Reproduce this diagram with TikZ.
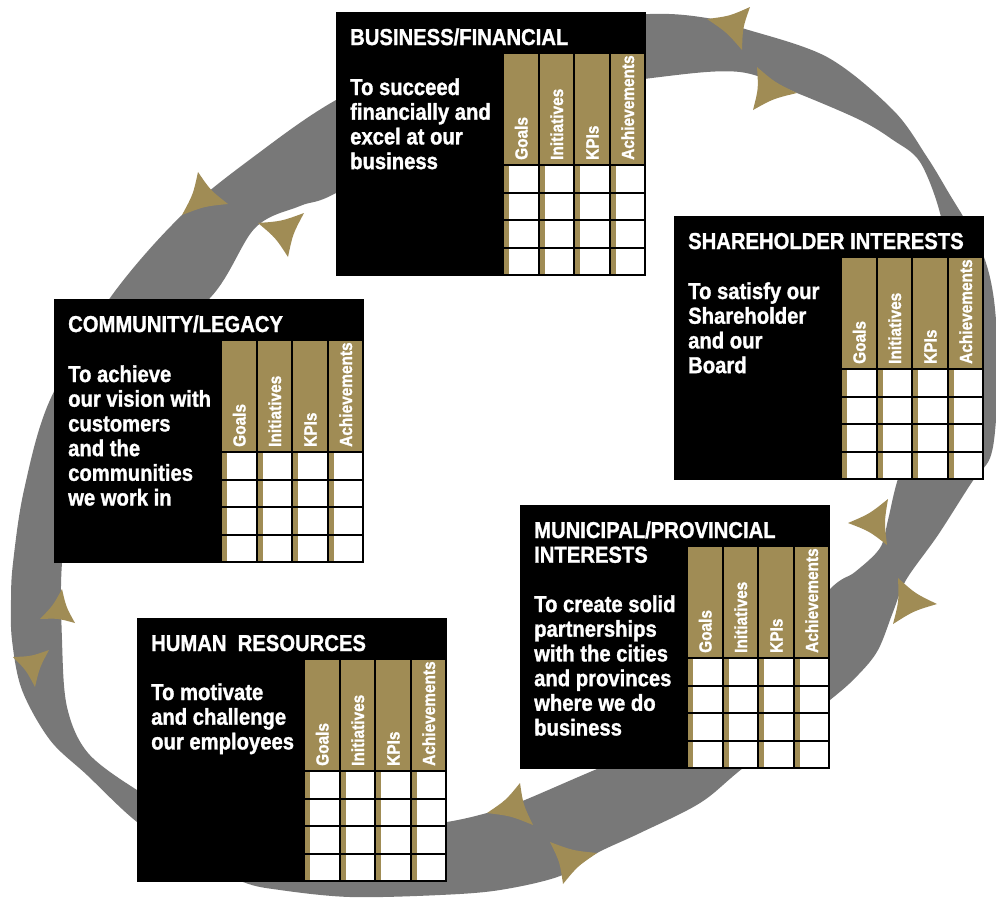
\documentclass[tikz,border=0pt]{standalone}
\usepackage{fontspec}
\newfontfamily\condf{Liberation Sans}[FakeStretch=0.88, BoldFeatures={FakeBold=1.3}]
\usetikzlibrary{calc}
\definecolor{ringgray}{RGB}{120,120,120}
\definecolor{gold}{RGB}{160,140,85}
\newcommand\stacklines[1]{\vtop{\baselineskip=24.7pt\lineskip=0pt\lineskiplimit=-100pt\halign{##\hfil\cr#1\crcr}}}
\tikzset{
  boxbg/.style={fill=black, minimum width=310pt, minimum height=264pt, anchor=north west, inner sep=0pt, outer sep=0pt},
  txt/.style={text=white, font=\condf\bfseries\fontsize{23}{24.7}\selectfont, anchor=base west, inner sep=0pt},
  hdr/.style={text=white, font=\condf\bfseries\fontsize{17.5}{18}\selectfont, rotate=90, anchor=base west, inner sep=0pt},
  gridline/.style={line width=2pt, black}
}
\newcommand\gtable[3]{%
  \fill[gold] (#2,#3) rectangle ++(142,221);
  \foreach \c in {0,1,2,3}{\foreach \r in {0,1,2,3}{\fill[white] ({#2+\c*35.5+6},{#3+111+\r*27.5}) rectangle ++(29.5,27.5);}}
  \foreach \c in {0,...,4}{\draw[gridline] ({#2+\c*35.5},#3) -- ++(0,221);}
  \foreach \r in {0,...,4}{\draw[gridline] (#2,{#3+111+\r*27.5}) -- ++(142,0);}
  \foreach \c/\lab in {0/Goals,1/Initiatives,2/KPIs,3/Achievements}{\node[hdr] (#1-h\c) at ({#2+\c*35.5+24.5},{#3+106}) {\lab};}
}
\newcommand\panel[6]{%
  \node[boxbg] (#1) at (#2,#3) {};
  \node[txt] (#1-title) at ({#2+14},{#3+33}) {\stacklines{#4}};
  \node[txt] (#1-body) at ({#2+14},{#3+#6}) {\stacklines{#5}};
  \gtable{#1}{#2+167}{#3+42}
}
\newcommand\barb[4]{%
  \coordinate (#1a) at #2; \coordinate (#1b) at #3; \coordinate (#1c) at #4;
  \coordinate (#1g) at ($0.3333*(#1a)+0.3333*(#1b)+0.3333*(#1c)$);
  \fill[gold] (#1a) .. controls ($(#1a)!0.5!(#1b)!0.25!(#1g)$) .. (#1b)
     .. controls ($(#1b)!0.5!(#1c)!0.25!(#1g)$) .. (#1c)
     .. controls ($(#1c)!0.5!(#1a)!0.25!(#1g)$) .. (#1a) -- cycle;
}
\begin{document}
\begin{tikzpicture}[x=1pt,y=-1pt]
\useasboundingbox (0,0) rectangle (996,898);
\fill[white] (0,0) rectangle (996,898);
% ring
\fill[ringgray, even odd rule]
  plot[smooth cycle, tension=0.55] coordinates {
   (336,100) (440,50) (540,24) (650,14) (707,18) (742,28) (827,57) (893,110)
   (927,157) (950,195) (968,225) (985,260) (994,300) (998,360) (996,420)
   (990,458) (972,482) (938,535) (906,580) (893,612) (878,650) (858,675)
   (830,700) (743,768) (700,803) (640,833) (597,853) (560,876) (500,890)
   (440,895) (350,897) (280,890) (243,882) (190,856) (137,822) (87,775)
   (50,740) (22,690) (12,640) (11,600) (13,563) (24,490) (50,400) (110,298)
   (182,215) (260,152)}
  plot[smooth cycle, tension=0.55] coordinates {
   (336,193) (440,130) (550,95) (660,77) (740,72) (797,93) (860,120)
   (893,140) (920,162) (940,213) (945,260) (935,350) (915,430) (897,482)
   (888,520) (880,548) (855,572) (829,590) (760,668) (680,735) (597,769)
   (520,802) (487,813) (440,823) (350,832) (250,826) (180,812) (137,790)
   (88,753) (67,707) (62,640) (62,563) (75,470) (120,370) (210,298)
   (255,228) (300,206)};
% arrow barbs
\barb{ja}{(707,19)}{(750,7)}{(742,50)}
\barb{jb}{(757,67)}{(797,93)}{(753,110)}
\barb{jc}{(182,215)}{(198,172)}{(228,204)}
\barb{jd}{(258,223)}{(304,213)}{(288,257)}
\barb{je}{(40,619)}{(62,589)}{(75,623)}
\barb{jf}{(13,657)}{(49,650)}{(35,687)}
\barb{jg}{(487,813)}{(520,783)}{(533,825)}
\barb{jh}{(550,842)}{(597,853)}{(563,884)}
\barb{ji}{(848,523)}{(888,499)}{(887,545)}
\barb{jj}{(898,578)}{(937,604)}{(893,624)}
% panels
\panel{bus}{336}{12}{BUSINESS/FINANCIAL}{To succeed\cr financially and\cr excel at our\cr business}{83}
\panel{sha}{674}{216}{SHAREHOLDER INTERESTS}{To satisfy our\cr Shareholder\cr and our\cr Board}{83}
\panel{com}{54}{299}{COMMUNITY/LEGACY}{To achieve\cr our vision with\cr customers\cr and the\cr communities\cr we work in}{83}
\panel{mun}{520}{505}{MUNICIPAL/PROVINCIAL\cr INTERESTS}{To create solid\cr partnerships\cr with the cities\cr and provinces\cr where we do\cr business}{107}
\panel{hum}{137}{618}{HUMAN~ RESOURCES}{To motivate\cr and challenge\cr our employees}{82}
\end{tikzpicture}
\end{document}
